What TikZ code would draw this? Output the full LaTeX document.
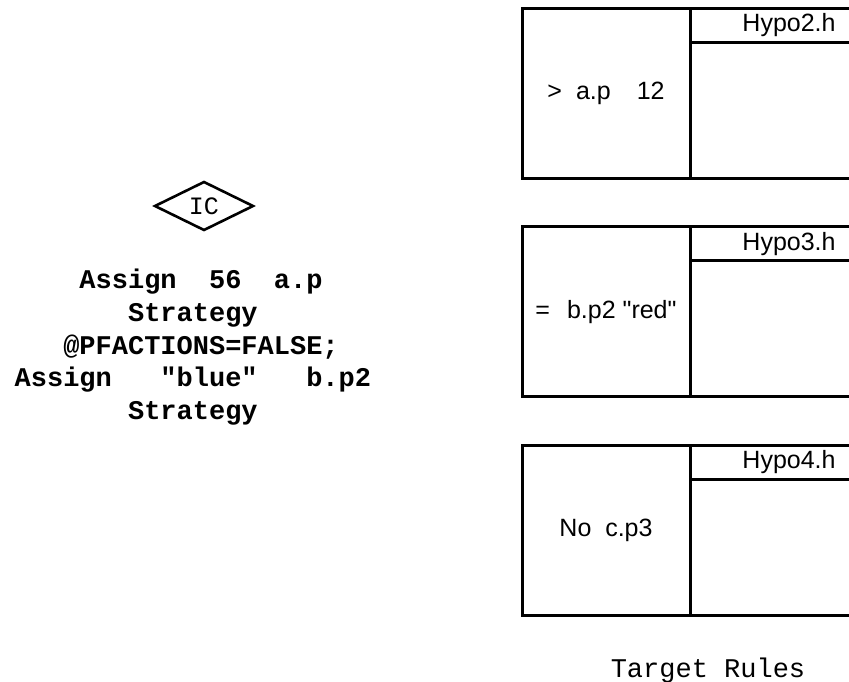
\documentclass[tikz,border=0pt]{standalone}
\usepackage{fontspec}
\setmainfont{Liberation Sans}
\setmonofont{Liberation Mono}
\newfontfamily\rulefont{Liberation Sans}
\usetikzlibrary{shapes.geometric,positioning}

\begin{document}
\begin{tikzpicture}[x=1pt, y=-1pt, node distance=48.4pt,
    every node/.style={inner sep=0pt, outer sep=0pt},
    cell/.style={draw, line width=3pt, font=\rulefont\fontsize{25}{28}\selectfont},
    condcell/.style={cell, minimum width=168, minimum height=170},
    headcell/.style={cell, anchor=north west, minimum width=198, minimum height=34},
    bodycell/.style={cell, anchor=north west, minimum width=198, minimum height=136}]
    \clip (0,0) rectangle (849,681);
    % initial condition and its assignments
    \node (ic) [diamond, draw, line width=2.6pt, minimum width=98, minimum height=48,
        font=\ttfamily\fontsize{25}{28}\selectfont] at (204,206) {IC};
    \node (assign) [below=39pt of ic, align=center, xshift=-3pt,
        font=\ttfamily\bfseries\fontsize{27}{32.75}\selectfont]
        {Assign\ \ 56\ \ a.p\\ Strategy\hphantom{\ }\\ @PFACTIONS=FALSE;\\
         Assign\ \ \ "blue"\ \ \ b.p2\hphantom{\ }\\ Strategy\hphantom{\ }};
    % target rules
    \node (cond1) [condcell] at (606,93.3) {>\hspace{14pt}a.p\hspace{26pt}12};
    \node (head1) [headcell] at (cond1.north east) {Hypo2.h};
    \node (body1) [bodycell] at (head1.south west) {};
    \node (cond2) [condcell, below=of cond1] {=\hspace{17pt}b.p2 "red"};
    \node (head2) [headcell] at (cond2.north east) {Hypo3.h};
    \node (body2) [bodycell] at (head2.south west) {};
    \node (cond3) [condcell, below=of cond2] {No\ \ c.p3};
    \node (head3) [headcell] at (cond3.north east) {Hypo4.h};
    \node (body3) [bodycell] at (head3.south west) {};
    \node (caption) [anchor=base, font=\ttfamily\fontsize{27}{30}\selectfont]
        at (708,677) {Target Rules};
\end{tikzpicture}
\end{document}
